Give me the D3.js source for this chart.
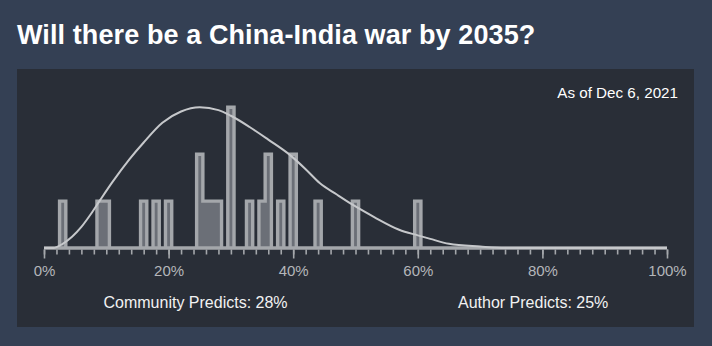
<!DOCTYPE html>
<html>
<head>
<meta charset="utf-8">
<script src="https://cdn.jsdelivr.net/npm/d3@7"></script>
<style>
  html, body { margin: 0; padding: 0; background: #344054; }
  svg { display: block; }
  text { font-family: "Liberation Sans", Arial, sans-serif; }
</style>
</head>
<body>
<svg id="chart" width="712" height="346"></svg>
<script>
// Question and labels
const title = "Will there be a China-India war by 2035?";
const asOfLabel = "As of Dec 6, 2021";
const communityLabel = "Community Predicts: 28%";
const authorLabel = "Author Predicts: 25%";

// Individual forecasts: bin centre (percent) and number of forecasters in that bin
const binCenters = [3, 9, 10, 16, 18, 20, 25, 26, 27, 28, 30, 33, 35, 36, 38, 40, 44, 50, 60];
const binCounts  = [1, 1, 1, 1, 1, 1, 2, 1, 1, 1, 3, 1, 1, 2, 1, 2, 1, 1, 1];

// Community distribution curve (percent, relative density)
const curvePct = [0, 1.5, 3, 4.5, 6, 7.5, 9, 11, 13.7, 16, 19, 22, 25, 28, 30, 33, 36, 39.5, 42, 44.3, 47, 49.6, 53, 57, 60, 62, 65, 70, 74, 100];
const curveDen = [0, 0, 0.03, 0.08, 0.15, 0.24, 0.34, 0.47, 0.63, 0.75, 0.89, 0.97, 1.0, 0.98, 0.94, 0.86, 0.77, 0.66, 0.56, 0.46, 0.38, 0.306, 0.22, 0.13, 0.09, 0.065, 0.03, 0.01, 0, 0];

// Axis ticks
const majorTicks = [0, 20, 40, 60, 80, 100];
const minorTicks = d3.range(0, 101, 2);

const svg = d3.select("#chart");
const W = 712, H = 346;

svg.append("rect").attr("width", W).attr("height", H).attr("fill", "#344054");

// Title
svg.append("text")
  .attr("x", 17).attr("y", 43.5)
  .attr("fill", "#ffffff")
  .attr("font-size", 27).attr("font-weight", 700)
  .attr("letter-spacing", 0.1)
  .text(title);

// Chart panel
svg.append("rect")
  .attr("x", 17).attr("y", 69).attr("width", 677).attr("height", 258)
  .attr("fill", "#292e37");

const x = d3.scaleLinear().domain([0, 100]).range([44, 667]);
const y = d3.scaleLinear().domain([0, 3]).range([248, 107.3]);
const yc = d3.scaleLinear().domain([0, 1]).range([248, 107.3]);

// Full histogram series, one entry per whole percent
const countByPct = new Map(binCenters.map((c, i) => [c, binCounts[i]]));
const hist = d3.range(0, 101).map(p => ({ p, n: countByPct.get(p) || 0 }));

const area = d3.area()
  .x(d => x(d.p))
  .y0(y(0))
  .y1(d => y(d.n))
  .curve(d3.curveStep);

svg.append("path")
  .datum(hist)
  .attr("d", area)
  .attr("fill", "#6b6f77")
  .attr("stroke", "#a4a7ab")
  .attr("stroke-width", 3.4)
  .attr("stroke-linejoin", "miter");

// Axis ticks below the baseline
const axisG = svg.append("g").attr("transform", `translate(0,${y(0) + 1.5})`);
const minorAxis = d3.axisBottom(x).tickValues(minorTicks).tickSize(5).tickFormat("");
const majorAxis = d3.axisBottom(x).tickValues(majorTicks).tickSize(9).tickPadding(7)
  .tickFormat(d => d + "%");

axisG.append("g").call(minorAxis);
axisG.append("g").call(majorAxis);
axisG.selectAll(".domain").remove();
axisG.selectAll(".tick line").attr("stroke", "#a4a7ab").attr("stroke-width", 1.6);
axisG.selectAll(".tick text")
  .attr("fill", "#b4b6ba")
  .attr("font-size", 15)
  .attr("font-family", "Liberation Sans, Arial, sans-serif");

// Community distribution curve
const curveData = curvePct.map((p, i) => ({ p, d: curveDen[i] }));
svg.append("path")
  .datum(curveData)
  .attr("d", d3.line().x(d => x(d.p)).y(d => yc(d.d)).curve(d3.curveMonotoneX))
  .attr("fill", "none")
  .attr("stroke", "#c6c8cb")
  .attr("stroke-width", 2);

// Date stamp
svg.append("text")
  .attr("x", 678).attr("y", 97.5)
  .attr("text-anchor", "end")
  .attr("fill", "#ffffff")
  .attr("font-size", 15.2)
  .text(asOfLabel);

// Footer predictions
svg.append("text")
  .attr("x", 103.5).attr("y", 307.5)
  .attr("fill", "#f2f2f2")
  .attr("font-size", 16)
  .text(communityLabel);

svg.append("text")
  .attr("x", 458).attr("y", 307.5)
  .attr("fill", "#f2f2f2")
  .attr("font-size", 16)
  .text(authorLabel);
</script>
</body>
</html>
